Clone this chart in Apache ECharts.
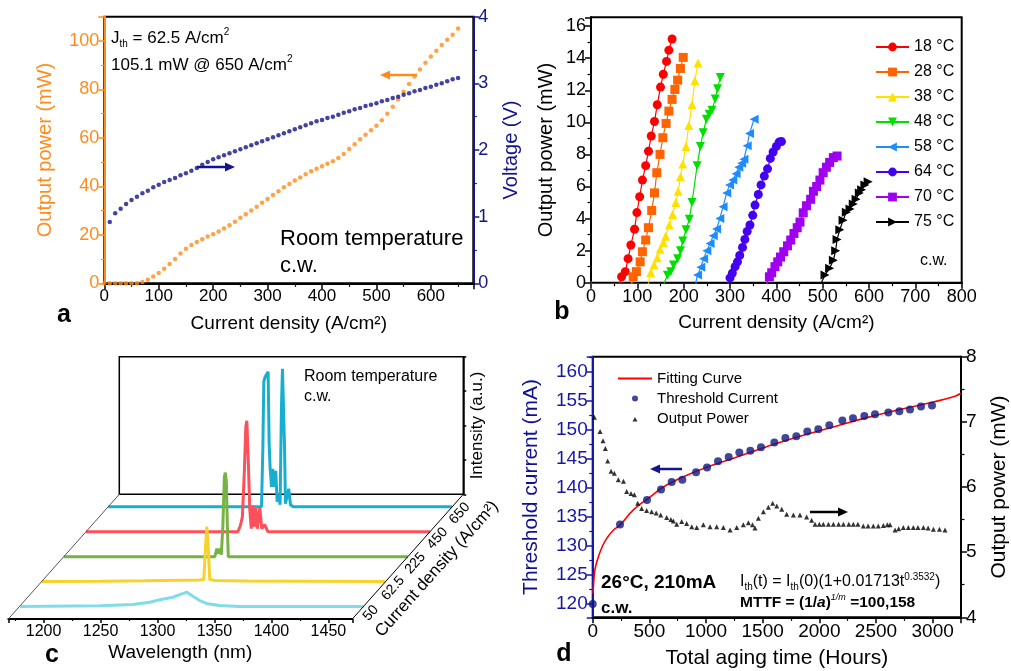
<!DOCTYPE html>
<html><head><meta charset="utf-8">
<script src="https://cdn.jsdelivr.net/npm/echarts@6/dist/echarts.min.js"></script>
<style>html,body{margin:0;padding:0;background:#fff}#main{width:1011px;height:671px}</style>
</head><body><div id="main"></div>
<script>
// ---------- Panel a : L-I-V ----------
const aPowX = [0,10,20,30,40,50,60,70,80,90,100,110,120,130,140,150,160,170,180,190,200,210,220,230,240,250,260,270,280,290,300,310,320,330,340,350,360,370,380,390,400,410,420,430,440,450,460,470,480,490,500,510,520,530,540,550,560,570,580,590,600,610,620,630,640,650];
const aPow = [0,0,0,0,0,0,0,0.5,1.5,2.8,4.3,6,8,10,12.3,14.3,15.8,17,18.2,19.3,20.2,21.4,22.6,24,25.4,27,28.5,30,31.6,33.2,34.8,36.4,38,39.6,41,42.4,43.7,45,46.2,47.3,48.3,49.3,50.4,51.7,53.4,55.4,57.4,59.4,61.3,63.1,65,67.3,70,72.8,75.8,79,82.2,85.3,88.2,91,93.6,96,98.3,100.5,102.6,105.1];
const aVolX = [10,20,30,40,50,60,70,80,90,100,110,120,130,140,150,160,170,180,190,200,210,220,230,240,250,260,270,280,290,300,310,320,330,340,350,360,370,380,390,400,410,420,430,440,450,460,470,480,490,500,510,520,530,540,550,560,570,580,590,600,610,620,630,640,650];
const aVol = [0.92,1.05,1.12,1.19,1.25,1.30,1.35,1.39,1.44,1.48,1.52,1.55,1.58,1.62,1.65,1.69,1.73,1.78,1.82,1.86,1.89,1.92,1.95,1.98,2.01,2.04,2.07,2.10,2.13,2.16,2.19,2.22,2.25,2.28,2.31,2.34,2.37,2.40,2.43,2.45,2.48,2.50,2.53,2.56,2.58,2.61,2.63,2.66,2.68,2.70,2.73,2.75,2.78,2.80,2.83,2.85,2.88,2.90,2.93,2.95,2.98,3.00,3.03,3.06,3.08];

// ---------- Panel b : temperature dependence ----------
const tempLabels = ['18 °C','28 °C','38 °C','48 °C','58 °C','64 °C','70 °C','75 °C'];
const j18 = [0,62,66,74,80,86,94,99,105,111,118,124,130,137,143,150,156,163,168,175];
const p18 = [0,0,0.37,0.69,1.5,2.35,3.33,4.37,5.36,6.4,7.3,8.2,9.15,10.05,11.1,12.2,13.0,13.8,14.5,15.2];
const j28 = [0,88,91,98,106,111,118,124,131,137,142,149,155,162,168,175,181,187,193,199];
const p28 = [0,0,0.37,0.69,1.3,1.93,2.66,3.43,4.5,5.6,6.86,8.0,9.04,9.93,10.7,11.43,12.05,12.63,13.36,14.05];
const j38 = [0,124,129,136,143,149,156,161,169,176,183,188,193,198,205,211,218,224,231];
const p38 = [0,0,0.62,1.1,1.56,2.08,2.51,2.9,3.6,4.26,5.0,5.7,6.6,7.4,8.5,9.8,11.1,12.6,13.7];
const j48 = [0,158,165,172,178,187,193,198,205,212,218,229,236,242,249,255,261,268,273,279];
const p48 = [0,0,0.46,0.69,1.1,1.5,2.0,2.6,3.3,3.95,5.0,7.3,8.5,9.35,10.2,10.5,10.76,11.45,12.1,12.8];
const j58 = [0,226,230,237,243,250,257,264,271,278,285,293,299,306,313,319,325,330,337,342,352];
const p58 = [0,0,0.48,0.96,1.5,2.0,2.45,2.93,3.35,4.0,4.74,5.6,6.1,6.4,6.8,7.2,7.45,7.7,8.54,9.3,10.2];
const j64 = [0,296,300,305,311,316,321,327,332,337,343,349,354,361,367,374,381,387,393,400,406,411];
const p64 = [0,0,0.3,0.6,1.0,1.3,1.7,2.2,2.7,3.2,3.6,4.2,4.84,5.5,6.1,6.65,7.1,7.75,8.15,8.5,8.77,8.8];
const j70 = [0,380,385,390,397,403,409,416,424,431,438,445,451,458,465,474,480,487,494,501,508,515,523,531];
const p70 = [0,0,0.37,0.62,1.0,1.3,1.6,1.93,2.3,2.66,3.07,3.43,3.78,4.36,4.8,5.2,5.7,6.0,6.4,6.86,7.2,7.5,7.8,7.9];
const j75 = [0,497,505,515,523,528,531,537,544,551,559,566,572,579,584,591,598];
const p75 = [0,0,0.48,0.9,1.4,2.0,2.7,3.3,3.9,4.4,4.6,4.9,5.2,5.6,5.8,6.1,6.3];

// ---------- Panel c : spectra waterfall ----------
const densityLabels = ['50','62.5','225','450','650'];
const wl50 = [1169.8,1239.8,1268.7,1283.6,1292.3,1303.7,1311.6,1316,1320.3,1327.3,1334.3,1344.8,1362.3,1471];
const in50 = [0,0.7,2,4.3,6.7,9.3,12.7,14.3,11,6,2.7,1,0,0];
const wl62 = [1169,1220.4,1260,1307.9,1311.4,1312.7,1314.0,1315.3,1316.6,1321,1350,1471];
const in62 = [0,0.3,0.8,1.5,2,30,55,35,2,1,0.5,0];
const wl225 = [1169,1301.6,1303.4,1304.7,1306.0,1307.3,1308.6,1310.0,1310.8,1311.7,1312.6,1313.4,1471];
const in225 = [0,0,8,3,8,2,30,80,84,75,30,0,0];
const wl450 = [1169,1302.3,1304.5,1306.3,1308.0,1309.3,1310.2,1311.5,1312.8,1314.1,1315.4,1316.7,1318.1,1319.4,1321.6,1323.3,1325.9,1328.6,1471];
const in450 = [0,0,6,15,60,105,111,70,22,3,26,5,24,3,24,3,7,0,0];
const wl650 = [1169,1303.6,1304.8,1305.6,1306.8,1308.0,1309.4,1310.3,1311.2,1312.4,1313.5,1314.7,1316.1,1317.3,1318.8,1319.9,1321.1,1322.0,1322.9,1323.8,1324.6,1326.0,1327.5,1329.0,1331.3,1471];
const in650 = [0,0,60,125,130,132,135,63,38,20,38,20,36,5,12,2,100,138,136,60,3,5,18,2,0,0];

// ---------- Panel d : aging ----------
const fitT = [3,10,20,50,85,124,182,241,359,491,653,947,1241,1535,1829,2124,2418,2712,3006,3197,3250];
const fitI = [121.8,124.0,125.9,128.1,129.9,131.3,132.7,133.6,136.2,138.2,140.5,143.1,145.1,147.1,148.9,150.5,152.1,153.5,154.8,155.8,156.3];
const thT = [0,241,479,603,697,791,912,1009,1106,1200,1294,1391,1485,1603,1700,1797,1894,1991,2088,2203,2297,2397,2491,2609,2706,2800,2897,2994];
const thI = [120,133.7,137.9,139.7,141.0,141.4,142.7,143.5,144.6,145.3,146.1,146.4,147.0,147.8,148.6,148.9,149.7,150.1,150.8,151.6,152.0,152.4,152.7,153.0,153.2,153.5,154.0,154.2];
const powT = [15,65,91,112,132,162,191,226,271,300,338,368,397,432,476,520,560,600,653,690,712,741,785,829,874,918,976,1035,1094,1153,1212,1271,1329,1374,1410,1432,1462,1506,1550,1588,1624,1668,1712,1771,1829,1888,1932,1962,2000,2035,2080,2124,2170,2212,2260,2300,2340,2388,2430,2476,2520,2565,2600,2624,2668,2700,2741,2785,2829,2870,2918,2960,3006,3060,3109];
const powP = [7.07,6.85,6.71,6.59,6.40,6.24,6.21,6.11,6.09,5.93,5.90,5.88,5.75,5.67,5.64,5.62,5.60,5.57,5.53,5.50,5.48,5.43,5.47,5.44,5.39,5.38,5.42,5.39,5.39,5.38,5.34,5.38,5.42,5.45,5.42,5.37,5.52,5.62,5.69,5.75,5.71,5.66,5.58,5.57,5.57,5.54,5.49,5.43,5.43,5.43,5.43,5.43,5.43,5.43,5.43,5.43,5.43,5.40,5.40,5.40,5.40,5.41,5.42,5.42,5.34,5.36,5.38,5.38,5.38,5.38,5.38,5.37,5.35,5.35,5.34];
const dLegend = ['Fitting Curve','Threshold Current','Output Power'];

// ---------- helpers ----------
const FF = 'Liberation Sans, Arial, Helvetica, sans-serif';
const ORANGE = '#FF8C1A', NAVY = '#14148C', DBLUE = '#1717A6';
const zip = (a, b) => a.map((v, i) => [v, b[i]]);
function merge(a, b) {
  const out = Object.assign({}, a);
  for (const k in b) {
    if (b[k] && typeof b[k] === 'object' && !Array.isArray(b[k]) && a[k] && typeof a[k] === 'object') out[k] = merge(a[k], b[k]);
    else out[k] = b[k];
  }
  return out;
}
const baseAxis = {
  type: 'value', splitLine: {show: false}, nameLocation: 'middle',
  axisLine: {show: true, onZero: false, lineStyle: {color: '#000', width: 2}},
  axisTick: {show: true, inside: false, length: 6, lineStyle: {color: '#000', width: 1.5}},
  minorTick: {show: true, splitNumber: 2, length: 3.5, lineStyle: {color: '#000', width: 1.2}},
  axisLabel: {fontFamily: FF, fontSize: 17, color: '#000', margin: 5, formatter: v => String(v)},
  nameTextStyle: {fontFamily: FF, fontSize: 19, color: '#000'}
};
const colorAxis = c => ({axisLine: {lineStyle: {color: c}}, axisTick: {lineStyle: {color: c}}, minorTick: {lineStyle: {color: c}}, axisLabel: {color: c}, nameTextStyle: {color: c}});
const hidden = (g, min, max) => ({type: 'value', show: false, gridIndex: g, min, max, splitLine: {show: false}});

// waterfall geometry (layout)
const C_LEFT = 8.3, C_BOTTOM = 619, C_W = 344, C_DX = 111, C_DY = 124.7, SPEC_H = 140;
const specFrac = [0.1, 0.3, 0.5, 0.7, 0.9];
const specData = [[wl50, in50], [wl62, in62], [wl225, in225], [wl450, in450], [wl650, in650]];
const specColors = ['#7FDCE8', '#F6D22A', '#77B244', '#FF4F5A', '#19AED0'];
const order = [4, 3, 2, 1, 0]; // back to front

const grids = [
  {left: 104.3, top: 16.7, width: 369, height: 266.6, show: true, borderColor: '#000', borderWidth: 2},
  {left: 591, top: 17.3, width: 370.7, height: 265.4, show: true, borderColor: '#000', borderWidth: 2},
  {left: 592.7, top: 356.7, width: 368.3, height: 260.6, show: true, borderColor: '#000', borderWidth: 2},
  {left: C_LEFT, top: C_BOTTOM - 59, width: C_W, height: 59},
  {left: C_LEFT + C_DX, top: 356.7, width: C_W, height: C_BOTTOM - C_DY - 356.7, show: true, borderColor: '#000', borderWidth: 1.5}
];
order.forEach(k => {
  const f = specFrac[k];
  grids.push({left: C_LEFT + C_DX * f, top: C_BOTTOM - C_DY * f - SPEC_H, width: C_W, height: SPEC_H});
});
grids.forEach(g => { g.outerBoundsMode = 'none'; g.containLabel = false; });

const xAxes = [
  merge(baseAxis, {gridIndex: 0, min: 0, max: 678, interval: 100, name: 'Current density (A/cm²)', nameGap: 31, axisLabel: {showMaxLabel: false}}),
  merge(baseAxis, {gridIndex: 1, min: 0, max: 800, interval: 100, name: 'Current density (A/cm²)', nameGap: 31, axisLabel: {fontSize: 18}}),
  merge(baseAxis, {gridIndex: 2, min: 0, max: 3250, interval: 500, name: 'Total aging time (Hours)', nameGap: 30, axisLabel: {fontSize: 19, showMaxLabel: false}, nameTextStyle: {fontSize: 21}}),
  merge(baseAxis, {gridIndex: 3, min: 1169, max: 1471, splitNumber: 6, name: 'Wavelength (nm)', nameGap: 24, axisLabel: {fontSize: 16, showMinLabel: false, showMaxLabel: false}, axisTick: {length: 4}, minorTick: {length: 2}}),
  hidden(4, 0, 1)
];
order.forEach((k, i) => xAxes.push(hidden(5 + i, 1169, 1471)));

const yAxes = [
  merge(merge(baseAxis, colorAxis(ORANGE)), {gridIndex: 0, min: 0, max: 110, interval: 20, position: 'left', name: 'Output power (mW)', nameGap: 49, nameRotate: 90, axisLabel: {showMaxLabel: false, fontSize: 18}, nameTextStyle: {fontSize: 20}}),
  merge(merge(baseAxis, colorAxis(NAVY)), {gridIndex: 0, min: 0, max: 4, interval: 1, position: 'right', name: 'Voltage (V)', nameGap: 28, nameRotate: 90, axisLabel: {fontSize: 18}, nameTextStyle: {fontSize: 20}}),
  merge(baseAxis, {gridIndex: 1, min: 0, max: 16.55, interval: 2, position: 'left', name: 'Output power (mW)', nameGap: 35, nameRotate: 90, axisLabel: {showMaxLabel: false, fontSize: 18}, nameTextStyle: {fontSize: 20}}),
  merge(merge(baseAxis, colorAxis(DBLUE)), {gridIndex: 2, min: 117.7, max: 162.6, splitNumber: 9, position: 'left', name: 'Threshold current (mA)', nameGap: 51, nameRotate: 90, axisLabel: {showMinLabel: false, showMaxLabel: false, fontSize: 19}, nameTextStyle: {fontSize: 21, color: '#101090'}}),
  merge(baseAxis, {gridIndex: 2, min: 4, max: 8, interval: 1, position: 'right', name: 'Output power (mW)', nameGap: 28, nameRotate: 90, axisLabel: {fontSize: 19}, nameTextStyle: {fontSize: 21}}),
  hidden(3, 0, 1),
  merge(baseAxis, {gridIndex: 4, min: 0, max: 4, interval: 1, position: 'right', name: 'Intensity (a.u.)', nameGap: 6, nameRotate: 90, axisLine: {lineStyle: {width: 1.5}}, axisTick: {length: 3}, minorTick: {show: false}, axisLabel: {show: false}, nameTextStyle: {fontSize: 17}})
];
order.forEach((k, i) => yAxes.push(hidden(5 + i, 0, SPEC_H)));

// ---------- series ----------
const series = [
  {name: 'P', type: 'scatter', xAxisIndex: 0, yAxisIndex: 0, data: zip(aPowX, aPow), symbol: 'circle', symbolSize: 4.5, itemStyle: {color: ORANGE}, clip: false},
  {name: 'V', type: 'scatter', xAxisIndex: 0, yAxisIndex: 1, data: zip(aVolX, aVol), symbol: 'circle', symbolSize: 4.5, itemStyle: {color: NAVY}, clip: false}
];
const bJ = [j18, j28, j38, j48, j58, j64, j70, j75];
const bP = [p18, p28, p38, p48, p58, p64, p70, p75];
const bStyle = [
  {c: '#FF0000', s: 'circle', r: 0}, {c: '#FF6400', s: 'rect', r: 0}, {c: '#FFE100', s: 'triangle', r: 0},
  {c: '#00E000', s: 'triangle', r: 180}, {c: '#1E8CFF', s: 'triangle', r: 90}, {c: '#4400F0', s: 'circle', r: 0},
  {c: '#A000F0', s: 'rect', r: 0}, {c: '#000000', s: 'triangle', r: -90}
];
tempLabels.forEach((nm, i) => {
  series.push({
    name: nm, type: 'line', xAxisIndex: 1, yAxisIndex: 2, data: zip(bJ[i], bP[i]),
    symbol: bStyle[i].s, symbolRotate: bStyle[i].r, showSymbol: true,
    symbolSize: v => (v[1] <= 0 ? 2 : 9),
    itemStyle: {color: bStyle[i].c}, lineStyle: {color: bStyle[i].c, width: 1.2}, clip: false
  });
});
series.push(
  {name: dLegend[0], type: 'line', xAxisIndex: 2, yAxisIndex: 3, data: zip(fitT, fitI), smooth: true, symbol: 'none', lineStyle: {color: '#FF0000', width: 1.6}, itemStyle: {color: '#FF0000'}, clip: false, z: 3},
  {name: dLegend[1], type: 'scatter', xAxisIndex: 2, yAxisIndex: 3, data: zip(thT, thI), symbol: 'circle', symbolSize: 8, itemStyle: {color: '#101880'}, clip: false, z: 4},
  {name: dLegend[2], type: 'scatter', xAxisIndex: 2, yAxisIndex: 4, data: zip(powT, powP), symbol: 'triangle', symbolKeepAspect: true, symbolSize: 5, itemStyle: {color: '#000'}, clip: false, z: 4}
);
order.forEach((k, i) => {
  series.push({
    name: 'spec' + densityLabels[k], type: 'line', xAxisIndex: 5 + i, yAxisIndex: 7 + i,
    data: zip(specData[k][0], specData[k][1]), symbol: 'none', smooth: false,
    lineStyle: {color: specColors[k], width: 3}, clip: false
  });
});

// ---------- graphics (annotations) ----------
const txt = (x, y, text, o) => ({type: 'text', x, y, z: 50, style: Object.assign({text, fontFamily: FF, fontSize: 16, fill: '#000', align: 'left', verticalAlign: 'middle'}, o || {})});
function arrow(x1, x2, y, color) {
  const d = Math.sign(x2 - x1), hl = 10, hw = 4.5;
  return [
    {type: 'line', z: 50, shape: {x1, y1: y, x2: x2 - d * hl, y2: y}, style: {stroke: color, lineWidth: 2.5}},
    {type: 'polygon', z: 50, shape: {points: [[x2, y], [x2 - d * hl, y - hw], [x2 - d * hl, y + hw]]}, style: {fill: color}}
  ];
}
const subRich = {
  n: {fontFamily: FF, fontSize: 17, lineHeight: 22, fill: '#000'},
  s: {fontFamily: FF, fontSize: 10, lineHeight: 10, verticalAlign: 'bottom', fill: '#000'},
  p: {fontFamily: FF, fontSize: 10, lineHeight: 10, verticalAlign: 'top', fill: '#000'}
};
const graphics = [
  txt(111, 38, '{n|J}{s|th}{n| = 62.5 A/cm}{p|2}', {rich: subRich}),
  txt(111, 65, '{n|105.1 mW @ 650 A/cm}{p|2}', {rich: subRich}),
  txt(280, 239, 'Room temperature', {fontSize: 22}),
  txt(280, 266, 'c.w.', {fontSize: 22}),
  txt(920, 261, 'c.w.', {fontSize: 16}),
  txt(304, 377, 'Room temperature', {fontSize: 16}),
  txt(304, 397, 'c.w.', {fontSize: 16}),
  txt(601, 583, '26°C, 210mA', {fontSize: 19, fontWeight: 'bold'}),
  txt(601, 608, 'c.w.', {fontSize: 17, fontWeight: 'bold'}),
  txt(740, 582, '{n|I}{s|th}{n|(t) = I}{s|th}{n|(0)(1+0.01713t}{p|0.3532}{n|)}', {rich: {
    n: {fontFamily: FF, fontSize: 16, lineHeight: 20, fill: '#000'},
    s: {fontFamily: FF, fontSize: 10, lineHeight: 9, verticalAlign: 'bottom', fill: '#000'},
    p: {fontFamily: FF, fontSize: 10, lineHeight: 9, verticalAlign: 'top', fill: '#000'}}}),
  txt(740, 603, '{b|MTTF = (1/}{i|a}{b|)}{p|1/m}{b| =100,158}', {rich: {
    b: {fontFamily: FF, fontSize: 15.5, fontWeight: 'bold', lineHeight: 20, fill: '#000'},
    i: {fontFamily: FF, fontSize: 15.5, fontWeight: 'bold', fontStyle: 'italic', lineHeight: 20, fill: '#000'},
    p: {fontFamily: FF, fontSize: 9, fontStyle: 'italic', lineHeight: 8, verticalAlign: 'top', fill: '#000'}}}),
  txt(64, 315, 'a', {fontSize: 25, fontWeight: 'bold', align: 'center'}),
  txt(562, 312, 'b', {fontSize: 25, fontWeight: 'bold', align: 'center'}),
  txt(52, 655, 'c', {fontSize: 25, fontWeight: 'bold', align: 'center'}),
  txt(564, 654, 'd', {fontSize: 25, fontWeight: 'bold', align: 'center'}),
  ...arrow(417, 380, 75, ORANGE),
  ...arrow(197, 235, 167, NAVY),
  ...arrow(682, 650, 469, '#101890'),
  ...arrow(810, 848, 512, '#000'),
  // waterfall floor edges
  {type: 'line', z: 40, shape: {x1: C_LEFT, y1: C_BOTTOM, x2: C_LEFT + C_DX, y2: C_BOTTOM - C_DY}, style: {stroke: '#555', lineWidth: 1}},
  {type: 'line', z: 40, shape: {x1: C_LEFT + C_W, y1: C_BOTTOM, x2: C_LEFT + C_W + C_DX, y2: C_BOTTOM - C_DY}, style: {stroke: '#000', lineWidth: 1}}
];
const diagLen = Math.hypot(C_DX, C_DY);
const perp = [C_DY / diagLen, C_DX / diagLen];
const rot = Math.atan2(C_DY, C_DX);
densityLabels.forEach((lab, k) => {
  const f = specFrac[k];
  const px = C_LEFT + C_W + C_DX * f + 10 * perp[0];
  const py = C_BOTTOM - C_DY * f + 10 * perp[1];
  graphics.push({type: 'text', x: px, y: py, rotation: rot, z: 50, style: {text: lab, fontFamily: FF, fontSize: 14, fill: '#000', align: 'center', verticalAlign: 'middle'}});
});
{
  const f = 0.56;
  graphics.push({type: 'text', x: C_LEFT + C_W + C_DX * f + 30 * perp[0], y: C_BOTTOM - C_DY * f + 30 * perp[1], rotation: rot, z: 50,
    style: {text: 'Current density (A/cm²)', fontFamily: FF, fontSize: 17, fill: '#000', align: 'center', verticalAlign: 'middle'}});
}

const option = {
  animation: false,
  backgroundColor: '#fff',
  grid: grids, xAxis: xAxes, yAxis: yAxes, series,
  legend: [
    {data: tempLabels, orient: 'vertical', left: 870, top: 34, itemWidth: 33, itemHeight: 11, itemGap: 9, selectedMode: false,
     textStyle: {fontFamily: FF, fontSize: 16, color: '#000'}},
    {data: [{name: dLegend[0], itemStyle: {opacity: 0}}, dLegend[1], {name: dLegend[2], icon: 'path://M0,0 M34,6 M14.5,6 L17,1.5 L19.5,6 Z'}], orient: 'vertical', left: 612, top: 366, itemWidth: 34, itemHeight: 6, itemGap: 5, selectedMode: false,
     textStyle: {fontFamily: FF, fontSize: 15, color: '#000'}}
  ],
  graphic: graphics
};
const chart = echarts.init(document.getElementById('main'), null, {renderer: 'canvas'});
chart.setOption(option);
</script></body></html>
